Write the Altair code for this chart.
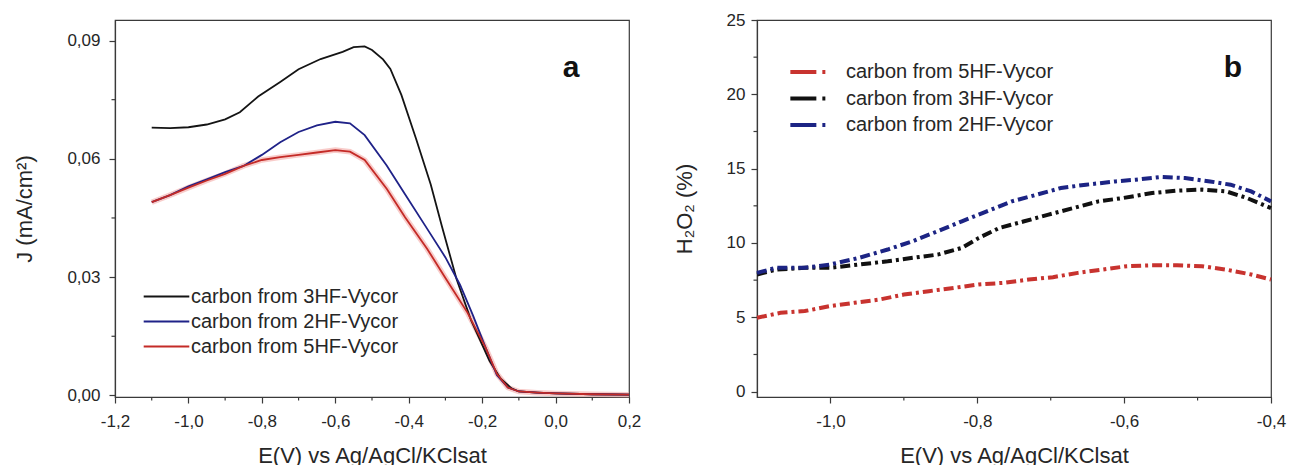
import altair as alt
import pandas as pd

FONT = "Liberation Sans"
AX = "#3a3a3a"
TXT = "#262626"

# ---------------- panel a : J vs E ----------------
a_names = ["carbon from 3HF-Vycor", "carbon from 2HF-Vycor", "carbon from 5HF-Vycor"]
a_colors = ["#141414", "#1f2288", "#c42b27"]

a_E_3HF = [-1.10, -1.05, -1.00, -0.95, -0.90, -0.86, -0.81, -0.75, -0.70, -0.64,
           -0.58, -0.55, -0.52, -0.50, -0.47, -0.45, -0.42, -0.38, -0.34, -0.31,
           -0.27, -0.23, -0.18, -0.15, -0.12, -0.10, -0.05, 0.00, 0.10, 0.20]
a_J_3HF = [0.0679, 0.0678, 0.0680, 0.0687, 0.0700, 0.0718, 0.0758, 0.0795, 0.0827, 0.0853,
           0.0871, 0.0883, 0.0885, 0.0876, 0.0852, 0.0828, 0.0762, 0.0651, 0.0535, 0.0430,
           0.0296, 0.0190, 0.0088, 0.0043, 0.0018, 0.0010, 0.0007, 0.0005, 0.0003, 0.0002]

a_E_2HF = [-1.10, -1.05, -1.00, -0.95, -0.90, -0.85, -0.80, -0.75, -0.70, -0.65,
           -0.60, -0.56, -0.52, -0.46, -0.41, -0.35, -0.30, -0.26, -0.225, -0.19,
           -0.16, -0.13, -0.10, -0.05, 0.00, 0.10, 0.20]
a_J_2HF = [0.0490, 0.0508, 0.0530, 0.0548, 0.0566, 0.0582, 0.0610, 0.0642, 0.0668, 0.0685,
           0.0694, 0.0690, 0.0660, 0.0583, 0.0510, 0.0423, 0.0350, 0.0280, 0.0203, 0.0120,
           0.0052, 0.0020, 0.0010, 0.0007, 0.0005, 0.0003, 0.0002]

a_E_5HF = [-1.10, -1.05, -1.00, -0.95, -0.90, -0.85, -0.80, -0.75, -0.70, -0.65,
           -0.60, -0.56, -0.52, -0.46, -0.41, -0.35, -0.30, -0.24, -0.19, -0.16,
           -0.13, -0.10, -0.05, 0.00, 0.10, 0.20]
a_J_5HF = [0.0490, 0.0508, 0.0527, 0.0545, 0.0562, 0.0582, 0.0597, 0.0604, 0.0610, 0.0616,
           0.0622, 0.0618, 0.0597, 0.0524, 0.0452, 0.0372, 0.0298, 0.0210, 0.0120, 0.0055,
           0.0020, 0.0010, 0.0007, 0.0005, 0.0003, 0.0002]

a_xticks = [-1.2, -1.0, -0.8, -0.6, -0.4, -0.2, 0.0, 0.2]
a_xminor = [-1.1, -0.9, -0.7, -0.5, -0.3, -0.1, 0.1]
a_yticks = [0.0, 0.03, 0.06, 0.09]
a_yminor = [0.015, 0.045, 0.075]

# ---------------- panel b : H2O2 % vs E ----------------
b_names = ["carbon from 5HF-Vycor", "carbon from 3HF-Vycor", "carbon from 2HF-Vycor"]
b_colors = ["#c8332f", "#111111", "#1c2484"]

b_E_5HF = [-1.100, -1.068, -1.035, -1.001, -0.967, -0.933, -0.900, -0.866, -0.832, -0.798, -0.764,
           -0.730, -0.697, -0.663, -0.630, -0.596, -0.562, -0.528, -0.494, -0.461, -0.427, -0.400]
b_H_5HF = [4.97, 5.30, 5.42, 5.75, 5.98, 6.20, 6.53, 6.76, 6.98, 7.21, 7.32,
           7.54, 7.70, 7.99, 8.21, 8.44, 8.50, 8.50, 8.44, 8.21, 7.88, 7.54]

b_E_3HF = [-1.100, -1.074, -1.035, -1.001, -0.961, -0.922, -0.888, -0.854, -0.821, -0.798, -0.770,
           -0.736, -0.703, -0.669, -0.635, -0.601, -0.562, -0.528, -0.494, -0.461, -0.433, -0.400]
b_H_3HF = [7.88, 8.21, 8.33, 8.33, 8.55, 8.77, 9.00, 9.22, 9.67, 10.34, 11.01,
           11.46, 11.91, 12.35, 12.80, 13.03, 13.36, 13.52, 13.59, 13.47, 13.03, 12.35]

b_E_2HF = [-1.100, -1.074, -1.035, -1.001, -0.961, -0.922, -0.888, -0.854, -0.821, -0.787, -0.753,
           -0.719, -0.686, -0.652, -0.612, -0.584, -0.550, -0.517, -0.483, -0.455, -0.427, -0.400]
b_H_2HF = [7.99, 8.33, 8.33, 8.55, 9.00, 9.56, 10.12, 10.79, 11.46, 12.13, 12.80,
           13.25, 13.70, 13.92, 14.14, 14.26, 14.44, 14.37, 14.14, 13.92, 13.47, 12.80]

b_xticks = [-1.0, -0.8, -0.6, -0.4]
b_xminor = [-0.9, -0.7, -0.5]
b_yticks = [0, 5, 10, 15, 20, 25]
b_yminor = [2.5, 7.5, 12.5, 17.5, 22.5]

# ---------------- tables ----------------
def table(names, xs, ys, xname, yname):
    rows = []
    for k, (n, xv, yv) in enumerate(zip(names, xs, ys)):
        for e, v in zip(xv, yv):
            rows.append({"series": n, xname: e, yname: v, "k": k})
    return pd.DataFrame(rows)

df_a = table(a_names, [a_E_3HF, a_E_2HF, a_E_5HF], [a_J_3HF, a_J_2HF, a_J_5HF], "E", "J")
df_b = table(b_names, [b_E_5HF, b_E_3HF, b_E_2HF], [b_H_5HF, b_H_3HF, b_H_2HF], "E", "H")

W, H = 514, 377


def dec(fmt):
    return "replace(replace(format(datum.value, '" + fmt + "'), '.', ','), '\u2212', '-')"


common = dict(grid=False, domainColor=AX, domainWidth=1.2, tickColor=AX, tickWidth=1.2,
              tickSize=6, labelFont=FONT, labelFontSize=17, labelColor=TXT,
              titleFont=FONT, titleFontSize=22, titleFontWeight="normal", titleColor=TXT,
              labelOverlap=False, labelFlush=False)

XTITLE = "E(V) vs Ag/AgCl/KClsat"

# ---------- panel a ----------
xa = alt.X("E:Q", scale=alt.Scale(domain=[-1.2, 0.2], nice=False, zero=False),
           axis=alt.Axis(values=a_xticks, labelExpr=dec(".1f"), title=XTITLE,
                         labelPadding=10, titlePadding=16, **common))
ya = alt.Y("J:Q", scale=alt.Scale(domain=[-0.0004, 0.0952], nice=False, zero=False),
           axis=alt.Axis(values=a_yticks, labelExpr=dec(".2f"), title="J (mA/cm²)",
                         labelPadding=9, titlePadding=30, **common))

halo_a = alt.Chart(df_a[df_a.series == a_names[2]]).mark_line(
    color="#f2a29e", strokeWidth=5.5, opacity=0.55).encode(x=xa, y=ya)

lines_a = alt.Chart(df_a).mark_line(strokeWidth=1.8).encode(
    x=xa, y=ya,
    color=alt.Color("series:N", sort=a_names,
                    scale=alt.Scale(domain=a_names, range=a_colors),
                    legend=alt.Legend(title=None, orient="none", legendX=39, legendY=264,
                                      symbolType="M-2,0H2", symbolSize=520,
                                      symbolStrokeWidth=2, labelOffset=12,
                                      labelFont=FONT, labelFontSize=20, labelColor=TXT,
                                      rowPadding=2, padding=0, labelLimit=500)),
)

minx_a = alt.Chart(pd.DataFrame({"E": a_xminor})).mark_rule(color=AX, strokeWidth=1.2).encode(
    x=xa, y=alt.value(H), y2=alt.value(H + 3.5))
miny_a = alt.Chart(pd.DataFrame({"J": a_yminor})).mark_rule(color=AX, strokeWidth=1.2).encode(
    y=ya, x=alt.value(0), x2=alt.value(-3.5))

letter_a = alt.Chart(pd.DataFrame({"t": ["a"]})).mark_text(
    font=FONT, fontSize=30, fontWeight="bold", color="#111111",
    align="center", baseline="alphabetic").encode(text="t:N", x=alt.value(456), y=alt.value(57))

left = alt.layer(halo_a, lines_a, minx_a, miny_a, letter_a).properties(width=W, height=H)

# ---------- panel b ----------
xb = alt.X("E:Q", scale=alt.Scale(domain=[-1.1, -0.4], nice=False, zero=False),
           axis=alt.Axis(values=b_xticks, labelExpr=dec(".1f"), title=XTITLE,
                         labelPadding=10, titlePadding=16, **common))
yb = alt.Y("H:Q", scale=alt.Scale(domain=[-0.36, 25], nice=False, zero=False),
           axis=alt.Axis(values=b_yticks, labelExpr="format(datum.value, 'd')",
                         title="H₂O₂ (%)", labelPadding=6, titlePadding=30, **common))

lines_b = alt.Chart(df_b).mark_line(strokeWidth=4, strokeDash=[10, 4, 3, 4]).encode(
    x=xb, y=yb,
    color=alt.Color("series:N", sort=b_names,
                    scale=alt.Scale(domain=b_names, range=b_colors),
                    legend=alt.Legend(title=None, orient="none", legendX=41, legendY=40,
                                      symbolType="M-2,0H2", symbolSize=386,
                                      symbolStrokeWidth=4, symbolDash=[26, 6, 3, 60],
                                      labelOffset=24, labelFont=FONT, labelFontSize=20,
                                      labelColor=TXT, rowPadding=4.5, padding=0,
                                      labelLimit=500)),
)

minx_b = alt.Chart(pd.DataFrame({"E": b_xminor})).mark_rule(color=AX, strokeWidth=1.2).encode(
    x=xb, y=alt.value(H), y2=alt.value(H + 3.5))
miny_b = alt.Chart(pd.DataFrame({"H": b_yminor})).mark_rule(color=AX, strokeWidth=1.2).encode(
    y=yb, x=alt.value(0), x2=alt.value(-3.5))

letter_b = alt.Chart(pd.DataFrame({"t": ["b"]})).mark_text(
    font=FONT, fontSize=30, fontWeight="bold", color="#111111",
    align="center", baseline="alphabetic").encode(text="t:N", x=alt.value(476), y=alt.value(57))

right = alt.layer(lines_b, minx_b, miny_b, letter_b).properties(width=W, height=H)

chart = (
    alt.hconcat(left, right, spacing=30)
    .resolve_scale(color="independent")
    .properties(padding={"left": 13, "top": 10, "right": 0, "bottom": 0}, background="white")
    .configure_view(stroke=AX, strokeWidth=1.2)
)

chart.save("out.html", embed_options={"renderer": "svg", "actions": False})
